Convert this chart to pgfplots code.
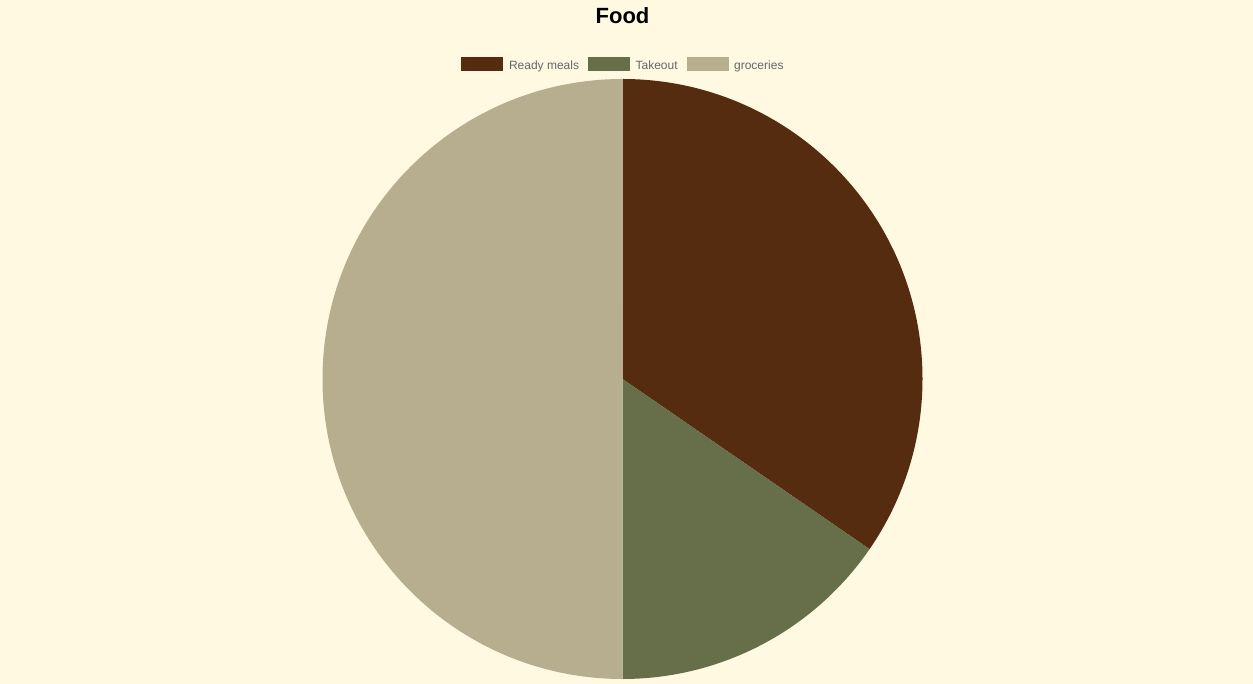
\documentclass[border=0pt]{standalone}
\usepackage{pgfplots}
\pgfplotsset{compat=1.18}
\usepackage{pgfplotstable}
\usepackage{fontspec}
\setmainfont{Liberation Sans}

\definecolor{bg}{HTML}{FEF9E0}
\definecolor{cReady}{HTML}{552C0F}
\definecolor{cTake}{HTML}{666E4A}
\definecolor{cGroc}{HTML}{B7AD8F}
\definecolor{legtext}{HTML}{666666}

% share of the food budget
\pgfplotstableread{
label      value
Ready      34.6
Takeout    15.4
groceries  50
}\fooddata

\begin{document}
\begin{tikzpicture}[x=0.75pt,y=0.75pt]
\fill[bg] (0,0) rectangle (1253,684);
\node[font=\bfseries\fontsize{16.5}{18}\selectfont, anchor=base] at (622.5,660) {Food};

\pgfplotstablegetelem{0}{value}\of\fooddata \let\va\pgfplotsretval
\pgfplotstablegetelem{1}{value}\of\fooddata \let\vb\pgfplotsretval
\pgfplotstablegetelem{2}{value}\of\fooddata \let\vc\pgfplotsretval
\pgfmathsetmacro{\total}{\va+\vb+\vc}
\pgfmathsetmacro{\aA}{90}
\pgfmathsetmacro{\aB}{\aA-360*(\va/\total)}
\pgfmathsetmacro{\aC}{\aB-360*(\vb/\total)}
\pgfmathsetmacro{\aD}{\aC-360*(\vc/\total)}

\begin{axis}[
  at={(466.875pt,228.75pt)}, anchor=center,
  scale only axis, width=450pt, height=450pt,
  xmin=-1, xmax=1, ymin=-1, ymax=1,
  hide axis, clip=false,
  legend columns=3,
  legend style={at={(0.5,1.0245)}, anchor=center, draw=none, fill=none,
    font=\fontsize{9}{10}\selectfont, text=legtext,
    nodes={inner sep=0pt},
    /tikz/every odd column/.append style={column sep=4.5pt},
    /tikz/every even column/.append style={column sep=6.75pt}},
]
\addlegendimage{legend image code/.code={\fill[cReady] (0pt,-3.35pt) rectangle (30.75pt,6.4pt);}}
\addlegendentry{Ready meals}
\addlegendimage{legend image code/.code={\fill[cTake] (0pt,-3.35pt) rectangle (30.75pt,6.4pt);}}
\addlegendentry{Takeout}
\addlegendimage{legend image code/.code={\fill[cGroc] (0pt,-3.35pt) rectangle (30.75pt,6.4pt);}}
\addlegendentry{groceries}

\fill[cReady] (axis cs:0,0) -- (axis cs:0,1) arc[start angle=\aA, end angle=\aB, radius=225pt] -- cycle;
\fill[cTake] (axis cs:0,0) -- (axis cs:{cos(\aB)},{sin(\aB)}) arc[start angle=\aB, end angle=\aC, radius=225pt] -- cycle;
\fill[cGroc] (axis cs:0,0) -- (axis cs:{cos(\aC)},{sin(\aC)}) arc[start angle=\aC, end angle=\aD, radius=225pt] -- cycle;
\end{axis}
\end{tikzpicture}
\end{document}
